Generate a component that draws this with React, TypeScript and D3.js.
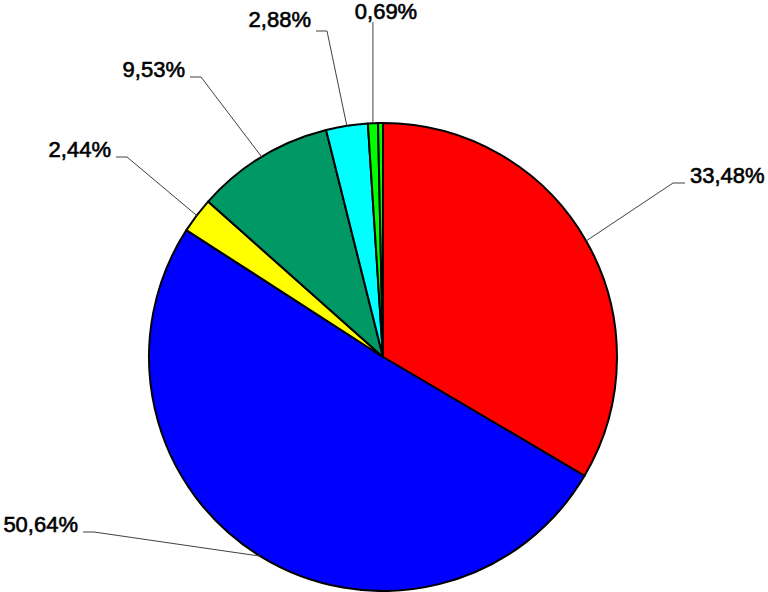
import React from "react";
import * as d3 from "d3";

const categories = ["A", "B", "C", "D", "E", "F", "G"];
const values = [33.48, 50.64, 2.44, 9.53, 2.88, 0.69, 0.34];
const labels = ["33,48%", "50,64%", "2,44%", "9,53%", "2,88%", "0,69%", ""];
const colors = ["#FF0000", "#0000FF", "#FFFF00", "#009966", "#00FFFF", "#00FF00", "#00FF00"];

// label layout: text anchor point (x, baseline y) and which side the leader attaches
const labelLayout = [
  { x: 690, y: 183, side: "left", ly: 183 },
  { x: 78, y: 532, side: "right", ly: 532 },
  { x: 111, y: 157, side: "right", ly: 157 },
  { x: 185, y: 77, side: "right", ly: 77 },
  { x: 311, y: 27, side: "right", ly: 31 },
  { x: 386, y: 19, side: "top", ly: 22 },
  null,
];

const W = 768;
const H = 592;
const cx = 383;
const cy = 357;
const R = 234;

export default function App() {
  const pie = d3
    .pie<number>()
    .sort(null)
    .value((d) => d)
    .startAngle(0)
    .endAngle(2 * Math.PI);
  const arcs = pie(values);
  const arc = d3.arc<d3.PieArcDatum<number>>().innerRadius(0).outerRadius(R);

  return (
    <svg
      width={W}
      height={H}
      style={{ position: "absolute", left: 0, top: 0, background: "#fff" }}
    >
      <g transform={`translate(${cx},${cy})`}>
        {arcs.map((a, i) => (
          <path
            key={categories[i]}
            d={arc(a) || ""}
            fill={colors[i]}
            stroke="#000"
            strokeWidth={2}
            strokeLinejoin="round"
          />
        ))}
      </g>
      {arcs.map((a, i) => {
        const lay = labelLayout[i];
        if (!lay) return null;
        const mid = (a.startAngle + a.endAngle) / 2;
        const ex = cx + R * Math.sin(mid);
        const ey = cy - R * Math.cos(mid);
        let pts: [number, number][];
        let anchor: "start" | "end" | "middle";
        if (lay.side === "left") {
          pts = [
            [ex, ey],
            [lay.x - 17, lay.ly],
            [lay.x - 5, lay.ly],
          ];
          anchor = "start";
        } else if (lay.side === "right") {
          pts = [
            [ex, ey],
            [lay.x + 16, lay.ly],
            [lay.x + 5, lay.ly],
          ];
          anchor = "end";
        } else {
          pts = [
            [ex, ey],
            [ex, lay.ly],
          ];
          anchor = "middle";
        }
        const line = d3.line()(pts) || "";
        return (
          <g key={"l" + i}>
            <path d={line} fill="none" stroke="#404040" strokeWidth={1} />
            <text
              x={lay.x}
              y={lay.y}
              textAnchor={anchor}
              fontFamily="Liberation Sans, Arial, sans-serif"
              fontSize={22}
              fill="#000"
              stroke="#000"
              strokeWidth={0.6}
            >
              {labels[i]}
            </text>
          </g>
        );
      })}
    </svg>
  );
}
